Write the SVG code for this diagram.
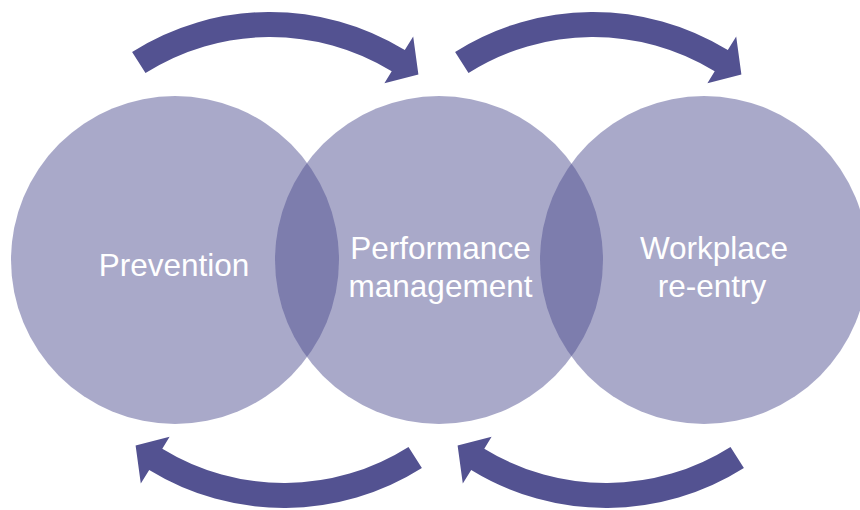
<svg xmlns="http://www.w3.org/2000/svg" xmlns:xlink="http://www.w3.org/1999/xlink" width="860" height="510" viewBox="0 0 860 510">
  <style>
    .stage { fill: #4f4f90; fill-opacity: 0.488; }
    .label { font-family: "Liberation Sans", Arial, Helvetica, sans-serif; font-size: 31.5px; fill: #ffffff; text-anchor: middle; }
    .flow { fill: #535291; }
  </style>
  <defs>
    <!-- Curved arrow drawn around its own arc centre (0,0); outer radius 258, inner 233 -->
    <path id="curved-arrow" d="M -137.9,-218.1 A 258 258 0 0 1 134.8,-220.0 L 143.2,-233.6 L 148.4,-195.5 L 114.4,-186.7 L 121.7,-198.7 A 233 233 0 0 0 -124.5,-196.9 Z"/>
  </defs>
  <rect width="860" height="510" fill="#ffffff"/>

  <g id="prevention">
    <circle class="stage" cx="175" cy="260" r="164"/>
    <text class="label" x="174" y="276">Prevention</text>
  </g>

  <g id="performance-management">
    <circle class="stage" cx="439" cy="260" r="164"/>
    <text class="label" x="440.5" y="259">Performance</text>
    <text class="label" x="440.5" y="297">management</text>
  </g>

  <g id="workplace-re-entry">
    <circle class="stage" cx="704" cy="260" r="164"/>
    <text class="label" x="714" y="259">Workplace</text>
    <text class="label" x="712" y="297">re-entry</text>
  </g>

  <g id="connectors" class="flow">
    <use xlink:href="#curved-arrow" transform="translate(270,270)"/>
    <use xlink:href="#curved-arrow" transform="translate(593,270)"/>
    <use xlink:href="#curved-arrow" transform="translate(284,250) rotate(180)"/>
    <use xlink:href="#curved-arrow" transform="translate(606,250) rotate(180)"/>
  </g>
</svg>
